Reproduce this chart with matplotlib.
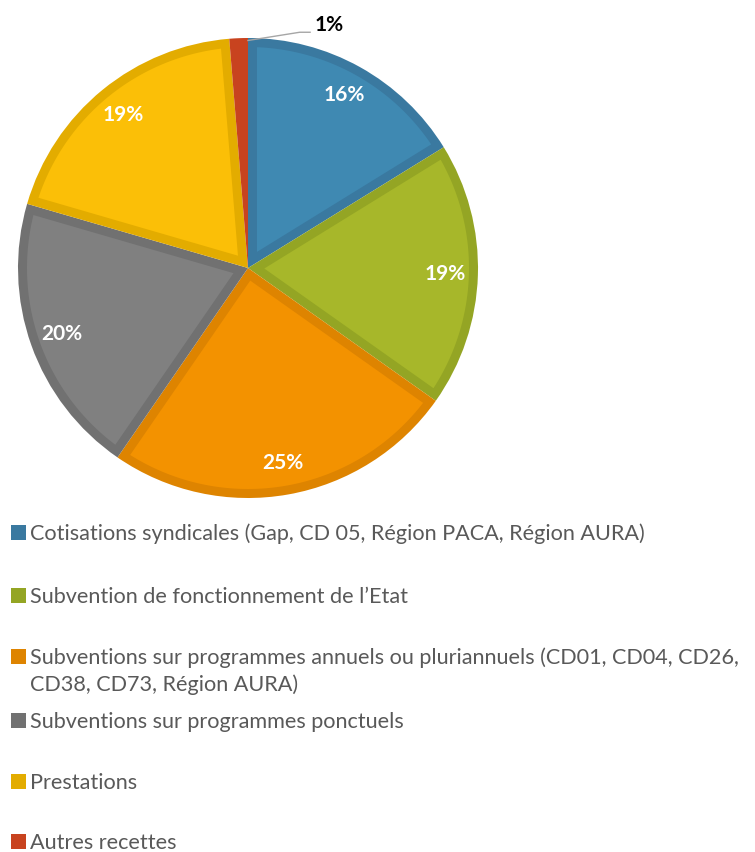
import matplotlib
matplotlib.use("Agg")
import matplotlib.pyplot as plt
import matplotlib.patches as mpatches
import numpy as np

# data
labels = [
    "Cotisations syndicales (Gap, CD 05, Région PACA, Région AURA)",
    "Subvention de fonctionnement de l\u2019Etat",
    "Subventions sur programmes annuels ou pluriannuels (CD01, CD04, CD26,\nCD38, CD73, Région AURA)",
    "Subventions sur programmes ponctuels",
    "Prestations",
    "Autres recettes",
]
shares = [16.2, 18.6, 24.8, 19.9, 19.2, 1.3]
fill_colors = ["#3F89B2", "#A7B72A", "#F39200", "#808080", "#FBBF07", "#CB4B22"]
edge_colors = ["#3A79A0", "#94A524", "#DE8400", "#717171", "#E3AC00", "#C8431F"]

W, H = 755, 852
plt.rcParams['font.family'] = ['Lato', 'DejaVu Sans']

fig = plt.figure(figsize=(W / 100, H / 100), dpi=100)

# pie: centre (248, 268) px, radius 230 px
cx, cy, r = 248, 268, 230
ax = fig.add_axes([(cx - r) / W, 1 - (cy + r) / H, 2 * r / W, 2 * r / H])

# slices drawn in the border colour, the lighter inner part goes on top
wedges, texts, autotexts = ax.pie(
    shares, colors=edge_colors, startangle=90, counterclock=False,
    autopct='%.0f%%', pctdistance=0.86,
    wedgeprops=dict(linewidth=0),
    textprops=dict(color='white', fontsize=15, fontweight='bold', zorder=5))


def inset_polygon(w, d):
    # region of the wedge lying at least d away from its sides
    t1, t2 = np.deg2rad(w.theta1), np.deg2rad(w.theta2)
    half = (t2 - t1) / 2
    R = w.r - d
    if np.sin(half) <= 0 or d / np.sin(half) >= R:
        return None
    apex_r = d / np.sin(half)
    bis = t1 + half
    s = np.sqrt(R ** 2 - d ** 2)
    da = np.arctan2(d, s)
    arc = np.linspace(t1 + da, t2 - da, 200)
    xs = [apex_r * np.cos(bis)] + list(R * np.cos(arc))
    ys = [apex_r * np.sin(bis)] + list(R * np.sin(arc))
    return np.column_stack([xs, ys])


border = 9 / r
for w, fc in zip(wedges, fill_colors):
    poly = inset_polygon(w, border)
    if poly is not None:
        ax.add_patch(mpatches.Polygon(poly, closed=True, facecolor=fc,
                                      edgecolor='none', zorder=w.get_zorder()))

ax.set_xlim(-1, 1)
ax.set_ylim(-1, 1)
ax.set_aspect('equal')

# tiny slice gets an outside label with leader line
small = wedges[-1]
autotexts[-1].set_visible(False)
mid = np.deg2rad((small.theta1 + small.theta2) / 2)
x0, y0 = np.cos(mid) * 0.99 + 0.04, np.sin(mid) * 0.99
ax.plot([x0, 0.225, 0.27], [y0, 1.025, 1.025], color='#A6A6A6', lw=1, clip_on=False)
ax.text(0.29, 1.055, autotexts[-1].get_text(), color='black', fontsize=15,
        fontweight='bold', va='center', ha='left')

# legend, laid out like the Excel one
baselines = [540, 603, 664, 728, 789, 849]
line_gap = 27
for lab, col, yb in zip(labels, edge_colors, baselines):
    fig.patches.append(mpatches.Rectangle(
        (11 / W, 1 - yb / H), 15 / W, 15 / H, transform=fig.transFigure,
        facecolor=col, edgecolor='none'))
    for k, part in enumerate(lab.split('\n')):
        fig.text(30 / W, 1 - (yb + k * line_gap) / H, part, color='#595959',
                 fontsize=15.6, va='baseline', ha='left')

fig.savefig('out.png', dpi=100)
